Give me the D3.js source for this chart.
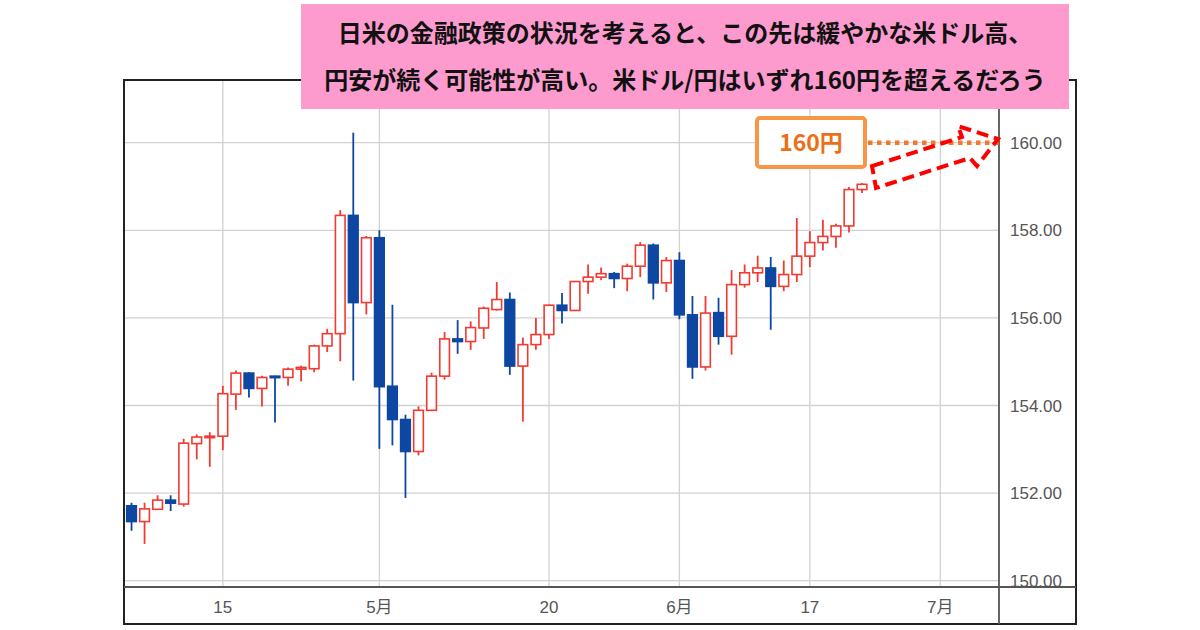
<!DOCTYPE html>
<html>
<head>
<meta charset="utf-8">
<script src="https://cdn.jsdelivr.net/npm/d3@7"></script>
<style>
  body { margin: 0; background: #fff; }
  svg { display: block; }
</style>
</head>
<body>
<div id="chart"></div>
<script>
// Daily USD/JPY candles
const dates = ["04-04","04-05","04-08","04-09","04-10","04-11","04-12","04-15","04-16","04-17",
  "04-18","04-19","04-22","04-23","04-24","04-25","04-26","04-29","04-30","05-01",
  "05-02","05-03","05-06","05-07","05-08","05-09","05-10","05-13","05-14","05-15",
  "05-16","05-17","05-20","05-21","05-22","05-23","05-24","05-27","05-28","05-29",
  "05-30","05-31","06-03","06-04","06-05","06-06","06-07","06-10","06-11","06-12",
  "06-13","06-14","06-17","06-18","06-19","06-20","06-21"];
const open = [151.71,151.35,151.63,151.84,151.75,153.13,153.27,153.30,154.26,154.74,
  154.39,154.67,154.64,154.83,154.84,155.36,155.64,158.34,156.35,157.83,
  154.44,153.68,152.95,153.89,154.67,155.52,155.46,155.77,156.19,156.42,
  154.90,155.39,155.62,156.29,156.17,156.83,156.93,157.01,156.90,157.18,
  157.66,156.80,157.31,156.07,154.88,156.12,155.58,156.76,157.03,157.14,
  156.72,156.99,157.41,157.72,157.86,158.10,158.93];
const high = [151.78,151.78,151.95,151.95,153.24,153.34,153.39,154.45,154.80,154.76,
  154.68,154.68,154.87,154.91,155.39,155.75,158.46,160.23,157.87,158.00,
  156.30,153.79,153.98,154.75,155.68,155.95,155.92,156.26,156.82,156.58,
  155.55,156.00,156.30,156.57,156.84,157.22,157.15,157.05,157.24,157.73,
  157.70,157.39,157.50,156.50,156.50,156.46,157.09,157.22,157.42,157.39,
  157.31,158.28,157.98,158.24,158.15,158.99,159.08];
const low = [151.14,150.84,151.63,151.59,151.69,152.77,152.60,152.98,153.90,154.18,
  153.98,153.61,154.45,154.55,154.76,155.22,155.01,154.57,156.08,153.01,
  153.09,151.89,152.86,153.87,154.59,155.18,155.27,155.52,156.17,154.70,
  153.63,155.27,155.52,155.87,156.16,156.55,156.86,156.68,156.61,156.93,
  156.42,156.59,155.97,154.61,154.80,155.39,155.16,156.69,156.82,155.73,
  156.61,156.82,157.16,157.54,157.60,157.95,158.85];
const close = [151.35,151.64,151.84,151.77,153.14,153.28,153.30,154.27,154.74,154.39,
  154.64,154.64,154.83,154.87,155.36,155.64,158.34,156.35,157.83,154.43,
  153.68,152.95,153.89,154.67,155.52,155.46,155.78,156.22,156.42,154.90,
  155.39,155.62,156.29,156.17,156.83,156.93,157.01,156.90,157.18,157.66,
  156.80,157.31,156.07,154.88,156.11,155.58,156.76,157.03,157.14,156.72,
  156.99,157.41,157.72,157.86,158.10,158.93,159.05];
// empty trading days kept on the right of the chart
const futureDates = ["06-24","06-25","06-26","06-27","06-28","07-01","07-02","07-03","07-04","07-05"];

const xTickDates = ["04-15","05-01","05-20","06-03","06-17","07-01"];
const xTickLabels = ["15","5月","20","6月","17","7月"];
const yTicks = [150,152,154,156,158,160];

const target = 160;
const titleLines = ["日米の金融政策の状況を考えると、この先は緩やかな米ドル高、",
  "円安が続く可能性が高い。米ドル/円はいずれ160円を超えるだろう"];

const W = 1200, H = 630;
const plotL = 125, plotR = 999, plotT = 80, axisY = 587, plotB = 624, frameR = 1076;
const upCol = "#f23a32", downCol = "#0e47a1";

const svg = d3.select("#chart").append("svg")
  .attr("width", W).attr("height", H);

const candles = dates.map((d, i) => ({date: d, o: open[i], h: high[i], l: low[i], c: close[i]}));

const x = d3.scaleBand()
  .domain(dates.concat(futureDates))
  .range([plotL, plotR])
  .paddingInner(0.26)
  .paddingOuter(0.13);
const cx = d => x(d) + x.bandwidth() / 2;

const y = d3.scaleLinear().domain([150, 160]).range([580.7, 142.7]);

// grid
svg.append("g").selectAll("line")
  .data(yTicks).enter().append("line")
  .attr("x1", plotL).attr("x2", plotR)
  .attr("y1", d => y(d)).attr("y2", d => y(d))
  .attr("stroke", "#d2d2d2").attr("stroke-width", 1.3);

svg.append("g").selectAll("line")
  .data(xTickDates).enter().append("line")
  .attr("x1", d => cx(d)).attr("x2", d => cx(d))
  .attr("y1", plotT).attr("y2", axisY)
  .attr("stroke", "#d2d2d2").attr("stroke-width", 1.3);

// candles
const cg = svg.append("g").selectAll("g")
  .data(candles).enter().append("g");

cg.append("line")
  .attr("x1", d => cx(d.date)).attr("x2", d => cx(d.date))
  .attr("y1", d => y(d.h)).attr("y2", d => y(d.l))
  .attr("stroke", d => d.c >= d.o ? upCol : downCol)
  .attr("stroke-width", 1.8);

cg.append("rect")
  .attr("x", d => x(d.date))
  .attr("width", x.bandwidth())
  .attr("y", d => y(Math.max(d.o, d.c)))
  .attr("height", d => Math.max(1.5, Math.abs(y(d.o) - y(d.c))))
  .attr("fill", d => d.c >= d.o ? "#fff" : downCol)
  .attr("stroke", d => d.c >= d.o ? upCol : downCol)
  .attr("stroke-width", 1.6);

// y labels, clipped at the axis line
svg.append("clipPath").attr("id", "yclip")
  .append("rect").attr("x", plotR).attr("y", plotT)
  .attr("width", frameR - plotR).attr("height", axisY - plotT);

svg.append("g").attr("clip-path", "url(#yclip)")
  .selectAll("text").data(yTicks).enter().append("text")
  .attr("x", 1010).attr("y", d => y(d))
  .attr("dy", "0.36em")
  .attr("font-family", "Liberation Sans, Arial, sans-serif")
  .attr("font-size", 17).attr("fill", "#555")
  .text(d => d3.format(".2f")(d));

// x labels
svg.append("g").selectAll("text")
  .data(xTickDates).enter().append("text")
  .attr("x", d => cx(d)).attr("y", 607)
  .attr("dy", "0.36em")
  .attr("text-anchor", "middle")
  .attr("font-family", "Liberation Sans, 'Noto Sans CJK JP', sans-serif")
  .attr("font-size", 17).attr("fill", "#555")
  .text((d, i) => xTickLabels[i]);

// frame
svg.append("rect")
  .attr("x", 124).attr("y", plotT).attr("width", frameR - 124).attr("height", plotB - plotT)
  .attr("fill", "none").attr("stroke", "#222").attr("stroke-width", 2);
svg.append("line").attr("x1", plotR).attr("x2", plotR).attr("y1", plotT).attr("y2", plotB)
  .attr("stroke", "#555").attr("stroke-width", 1.8);
svg.append("line").attr("x1", 124).attr("x2", frameR).attr("y1", axisY).attr("y2", axisY)
  .attr("stroke", "#555").attr("stroke-width", 1.8);

// 160 target marker
const ty = y(target);
svg.append("line")
  .attr("x1", 868).attr("x2", plotR).attr("y1", ty).attr("y2", ty)
  .attr("stroke", "#f07a2c").attr("stroke-width", 4.5)
  .attr("stroke-dasharray", "4.5,4.5");

svg.append("rect")
  .attr("x", 757).attr("y", 118).attr("width", 108).attr("height", 49).attr("rx", 3)
  .attr("fill", "#fff").attr("stroke", "#f79646").attr("stroke-width", 4);
svg.append("text")
  .attr("x", 811).attr("y", 143).attr("dy", "0.36em")
  .attr("text-anchor", "middle")
  .attr("font-family", "'Noto Sans CJK JP', sans-serif")
  .attr("font-weight", "bold").attr("font-size", 23).attr("fill", "#ec6f17")
  .text(target + "円");

// dashed arrow towards 160
const arrowPts = [[872,166],[962,137],[958,126],[998,139],[977,166],[970,158],[876,188]];
svg.append("polygon")
  .attr("points", arrowPts.map(p => p.join(",")).join(" "))
  .attr("fill", "none").attr("stroke", "#ff0000").attr("stroke-width", 4)
  .attr("stroke-dasharray", "12,6").attr("stroke-linejoin", "miter");

// pink banner
svg.append("rect")
  .attr("x", 301).attr("y", 4).attr("width", 768).attr("height", 105)
  .attr("fill", "#fd9bcf");
svg.append("g").selectAll("text")
  .data(titleLines).enter().append("text")
  .attr("x", 685).attr("y", (d, i) => 33 + i * 47).attr("dy", "0.36em")
  .attr("text-anchor", "middle")
  .attr("font-family", "'Noto Sans CJK JP', sans-serif")
  .attr("font-weight", "bold").attr("font-size", 24).attr("fill", "#111")
  .text(d => d);
</script>
</body>
</html>
